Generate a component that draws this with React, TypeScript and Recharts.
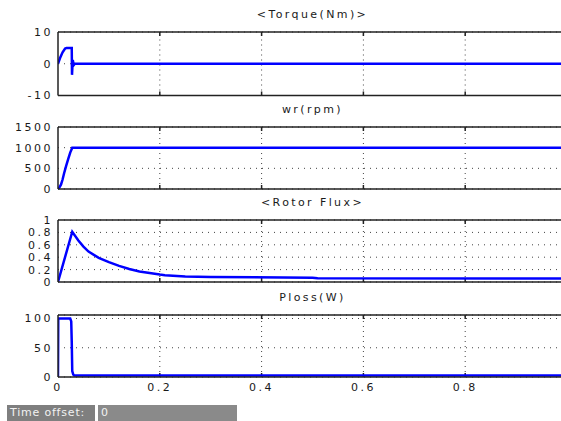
import { LineChart, Line, XAxis, YAxis, CartesianGrid, ReferenceLine } from "recharts";

// simulation time samples (s) and recorded values for each scope channel
const torqueTime = [0, 0.004, 0.009, 0.014, 0.017, 0.026, 0.027, 0.0275, 0.029, 0.031, 0.033, 1];
const torqueValues = [0, 1.8, 3.6, 4.8, 5, 5, 5, -3.5, 1.2, -0.4, 0, 0];

const speedTime = [0, 0.003, 0.006, 0.009, 0.012, 0.016, 0.02, 0.024, 0.028, 1];
const speedValues = [0, 40, 110, 230, 380, 560, 720, 880, 1000, 1000];

const fluxTime = [0, 0.028, 0.04, 0.05, 0.06, 0.08, 0.1, 0.12, 0.14, 0.16, 0.18, 0.2, 0.21, 0.25, 0.3, 0.5, 0.51, 1];
const fluxValues = [0, 0.81, 0.67, 0.57, 0.49, 0.39, 0.32, 0.26, 0.21, 0.17, 0.145, 0.12, 0.11, 0.09, 0.08, 0.07, 0.06, 0.055];

const plossTime = [0, 0.0005, 0.024, 0.026, 0.027, 0.028, 0.03, 0.032, 1];
const plossValues = [0, 100, 100, 95, 60, 10, 4, 2.5, 2.5];

// the scope window cuts off just before t = 1
const timeTicks = [0, 0.2, 0.4, 0.6, 0.8];
const innerTicks = [0.2, 0.4, 0.6, 0.8];

const zip = (t: number[], v: number[]) => t.map((x, i) => ({ t: x, v: v[i] }));

const FONT = "'DejaVu Sans', sans-serif";
const PLOT_LEFT = 58;
const PLOT_W = 509;

type Panel = {
  title: string;
  data: { t: number; v: number }[];
  domain: [number, number];
  ticks: number[];
  top: number;
  height: number;
  showTime?: boolean;
};

const panels: Panel[] = [
  { title: "<Torque(Nm)>", data: zip(torqueTime, torqueValues), domain: [-10, 10], ticks: [-10, 0, 10], top: 32, height: 63.5 },
  { title: "wr(rpm)", data: zip(speedTime, speedValues), domain: [0, 1500], ticks: [0, 500, 1000, 1500], top: 127, height: 62 },
  { title: "<Rotor Flux>", data: zip(fluxTime, fluxValues), domain: [0, 1], ticks: [0, 0.2, 0.4, 0.6, 0.8, 1], top: 220, height: 62 },
  { title: "Ploss(W)", data: zip(plossTime, plossValues), domain: [0, 106], ticks: [0, 50, 100], top: 315, height: 62, showTime: true },
];

const tickStyle = { fontSize: 11, fill: "#1a1a1a", fontFamily: FONT, letterSpacing: 2.5 };

function ScopePanel({ p }: { p: Panel }) {
  const mTop = 10;
  const axisH = p.showTime ? 30 : 1;
  const mBottom = p.showTime ? 0 : 8;
  const [lo, hi] = p.domain;
  // short marks drawn inward from the top and bottom frame at each grid column
  const markLen = ((hi - lo) * 4) / p.height;
  return (
    <div style={{ position: "absolute", left: 0, top: p.top - mTop }}>
      <LineChart
        width={PLOT_LEFT + PLOT_W + 30}
        height={mTop + p.height + axisH + mBottom}
        data={p.data}
        margin={{ top: mTop, right: 30, bottom: mBottom, left: 0 }}
      >
        <CartesianGrid stroke="#444" strokeDasharray="1 5" vertical={false} />
        <XAxis
          dataKey="t"
          type="number"
          domain={[0, 1]}
          ticks={timeTicks}
          allowDataOverflow
          height={axisH}
          axisLine={{ stroke: "#222", strokeWidth: 1.5 }}
          tickLine={false}
          tickSize={0}
          tickMargin={6}
          tick={p.showTime ? tickStyle : false}
        />
        <YAxis
          type="number"
          domain={p.domain}
          ticks={p.ticks}
          width={PLOT_LEFT}
          interval={0}
          axisLine={{ stroke: "#222", strokeWidth: 1.5 }}
          tickLine={false}
          tickSize={0}
          tickMargin={5}
          tick={tickStyle}
        />
        {innerTicks.map((x) => (
          <ReferenceLine key={`g${x}`} x={x} stroke="#444" strokeDasharray="1 4" />
        ))}
        <ReferenceLine y={hi} stroke="#222" strokeWidth={1.5} />
        {innerTicks.map((x) => (
          <ReferenceLine
            key={`b${x}`}
            segment={[{ x, y: lo }, { x, y: lo + markLen }]}
            stroke="#222"
            strokeWidth={1.5}
          />
        ))}
        {innerTicks.map((x) => (
          <ReferenceLine
            key={`t${x}`}
            segment={[{ x, y: hi }, { x, y: hi - markLen }]}
            stroke="#222"
            strokeWidth={1.5}
          />
        ))}
        <Line
          dataKey="v"
          type="linear"
          stroke="#0000ff"
          strokeWidth={2.5}
          dot={false}
          isAnimationActive={false}
        />
      </LineChart>
      <div
        style={{
          position: "absolute",
          left: 0,
          width: PLOT_LEFT * 2 + PLOT_W,
          top: mTop - 24,
          textAlign: "center",
          fontFamily: FONT,
          fontSize: 11,
          letterSpacing: 2.4,
          color: "#1a1a1a",
          lineHeight: "14px",
        }}
      >
        {p.title}
      </div>
    </div>
  );
}

export default function App() {
  return (
    <div
      style={{
        position: "fixed",
        left: 0,
        top: 0,
        width: 561,
        height: 421,
        overflow: "hidden",
        background: "#fff",
      }}
    >
      {panels.map((p) => (
        <ScopePanel key={p.title} p={p} />
      ))}
      <div
        style={{
          position: "absolute",
          left: 7,
          top: 405,
          width: 88,
          height: 16,
          background: "#7f7f7f",
          color: "#f2f2f2",
          fontFamily: FONT,
          fontSize: 11,
          letterSpacing: 0.8,
          lineHeight: "16px",
          paddingLeft: 3,
          boxSizing: "border-box",
        }}
      >
        Time offset:
      </div>
      <div
        style={{
          position: "absolute",
          left: 98,
          top: 405,
          width: 139,
          height: 16,
          background: "#8a8a8a",
          color: "#f2f2f2",
          fontFamily: FONT,
          fontSize: 11,
          lineHeight: "16px",
          paddingLeft: 3,
          boxSizing: "border-box",
        }}
      >
        0
      </div>
    </div>
  );
}
